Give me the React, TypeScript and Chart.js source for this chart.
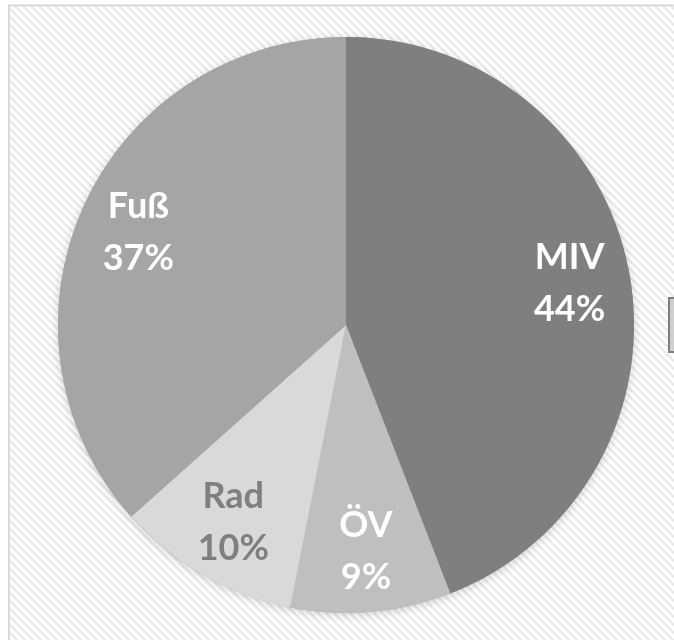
import React, { useEffect, useRef } from "react";
import { Chart, registerables } from "chart.js";

Chart.register(...registerables);

const categories = ["MIV", "ÖV", "Rad", "Fuß"];
const shares = [44.1, 9.0, 10.3, 36.6];
const percentLabels = ["44%", "9%", "10%", "37%"];
const sliceColors = ["#7f7f7f", "#bfbfbf", "#d9d9d9", "#a5a5a5"];
const labelColors = ["#ffffff", "#ffffff", "#7f7f7f", "#ffffff"];

function makePattern(ctx: CanvasRenderingContext2D) {
  const c = document.createElement("canvas");
  c.width = 8;
  c.height = 8;
  const p = c.getContext("2d")!;
  p.fillStyle = "#ffffff";
  p.fillRect(0, 0, 8, 8);
  p.fillStyle = "#e9e9e9";
  for (let y = 0; y < 8; y++) {
    for (let k = 0; k < 3; k++) {
      const x = (y + k) % 8;
      p.fillRect(x, y, 1, 1);
    }
  }
  return ctx.createPattern(c, "repeat");
}

const backgroundPlugin = {
  id: "bgFrame",
  beforeDraw(chart: any) {
    const ctx = chart.ctx as CanvasRenderingContext2D;
    const w = chart.width;
    const h = chart.height;
    ctx.save();
    ctx.fillStyle = "#ffffff";
    ctx.fillRect(0, 0, w, h);
    const pat = makePattern(ctx);
    if (pat) {
      ctx.fillStyle = pat;
      ctx.fillRect(9, 6, w - 9, h - 6);
    }
    ctx.strokeStyle = "#d9d9d9";
    ctx.lineWidth = 2;
    ctx.beginPath();
    ctx.moveTo(9, h + 2);
    ctx.lineTo(9, 5.5);
    ctx.lineTo(w + 2, 5.5);
    ctx.stroke();
    // partially visible legend box at the right edge
    ctx.fillStyle = "#cfcfcf";
    ctx.fillRect(668, 297, 10, 56);
    ctx.strokeStyle = "#7f7f7f";
    ctx.lineWidth = 2;
    ctx.strokeRect(669, 298, 10, 54);
    ctx.restore();
  },
  beforeDatasetsDraw(chart: any) {
    const ctx = chart.ctx as CanvasRenderingContext2D;
    const meta = chart.getDatasetMeta(0);
    const a = meta.data[0];
    if (!a) return;
    ctx.save();
    ctx.shadowColor = "rgba(0,0,0,0.18)";
    ctx.shadowBlur = 10;
    ctx.shadowOffsetY = 2;
    ctx.fillStyle = "#a5a5a5";
    ctx.beginPath();
    ctx.arc(a.x, a.y, a.outerRadius, 0, Math.PI * 2);
    ctx.fill();
    ctx.restore();
  },
};

const labelPlugin = {
  id: "sliceLabels",
  afterDatasetsDraw(chart: any) {
    const ctx = chart.ctx as CanvasRenderingContext2D;
    const meta = chart.getDatasetMeta(0);
    ctx.save();
    ctx.font = "bold 36px Lato, 'Open Sans', sans-serif";
    ctx.textAlign = "center";
    ctx.textBaseline = "middle";
    meta.data.forEach((arc: any, i: number) => {
      const mid = (arc.startAngle + arc.endAngle) / 2;
      const r = arc.outerRadius * 0.79;
      const x = arc.x + Math.cos(mid) * r;
      const y = arc.y + Math.sin(mid) * r;
      ctx.fillStyle = labelColors[i];
      ctx.fillText(categories[i], x, y - 26);
      ctx.fillText(percentLabels[i], x, y + 26);
    });
    ctx.restore();
  },
};

export default function App() {
  const ref = useRef<HTMLCanvasElement | null>(null);
  useEffect(() => {
    if (!ref.current) return;
    const chart = new Chart(ref.current, {
      type: "pie",
      data: {
        labels: categories,
        datasets: [
          {
            data: shares,
            backgroundColor: sliceColors,
            borderWidth: 0,
          },
        ],
      },
      options: {
        responsive: false,
        animation: false,
        layout: { padding: { left: 58, right: 40, top: 37, bottom: 27 } },
        plugins: {
          legend: { display: false },
          tooltip: { enabled: false },
        },
      },
      plugins: [backgroundPlugin, labelPlugin],
    });
    return () => chart.destroy();
  }, []);
  return (
    <div style={{ position: "fixed", left: 0, top: 0, width: 674, height: 640 }}>
      <canvas ref={ref} width={674} height={640} style={{ display: "block" }} />
    </div>
  );
}
